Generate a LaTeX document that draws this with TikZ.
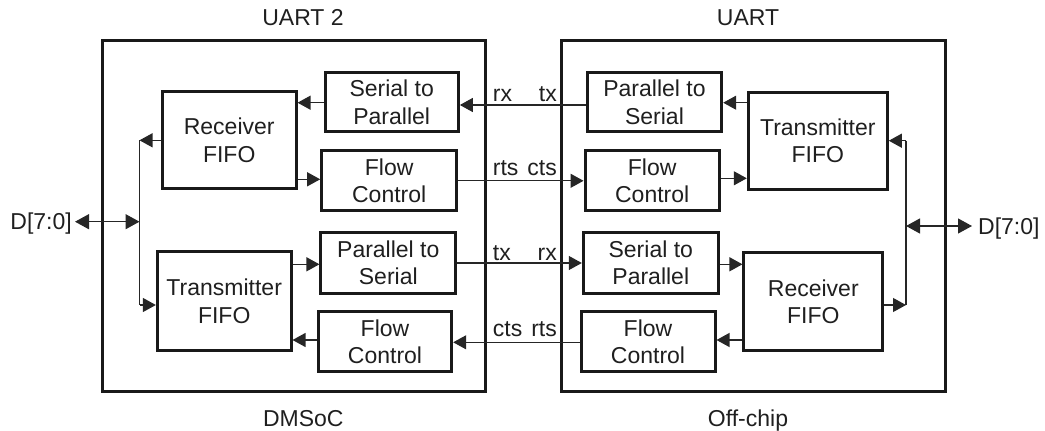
\documentclass[tikz,border=0pt]{standalone}
\usepackage{fontspec}
\setmainfont{Liberation Sans}
\usetikzlibrary{arrows.meta}
\begin{document}
\begin{tikzpicture}[x=1pt,y=-1pt,
  every node/.style={font=\fontsize{23}{27.5}\selectfont, text=black!88},
  blk/.style={draw=black!90, line width=3pt, inner sep=0pt, align=center},
  outer/.style={draw=black!90, line width=3pt, inner sep=0pt},
  lbl/.style={inner sep=0pt},
  arr/.style={draw=black!85, line width=1.2pt, -{Triangle[length=13pt,width=14pt]}},
  dbl/.style={draw=black!85, line width=1.2pt, {Triangle[length=14pt,width=15pt]}-{Triangle[length=14pt,width=15pt]}},
  bus/.style={draw=black!85, line width=1.2pt}]
\useasboundingbox (0,0) rectangle (1045,431);

% outer boxes
\node[outer, minimum width=382.3pt, minimum height=351pt] (lbox) at (293.85,216.2) {};
\node[outer, minimum width=383.3pt, minimum height=351pt] (rbox) at (753.35,216.2) {};

% titles
\node[anchor=base] (t1) at (303,25) {UART 2};
\node[anchor=base] (t2) at (748,25) {UART};
\node[anchor=base] (b1) at (303.3,426.5) {DMSoC};
\node[anchor=base] (b2) at (748,426.5) {Off-chip};

% left blocks
\node[blk, minimum width=133.7pt, minimum height=97.3pt] (lrx) at (229.2,140.3) {Receiver\\FIFO};
\node[blk, minimum width=133.7pt, minimum height=99pt] (ltx) at (224.2,301.2) {Transmitter\\FIFO};
\node[blk, minimum width=133.3pt, minimum height=59pt] (ls2p) at (391.7,102.2) {Serial to\\Parallel};
\node[blk, minimum width=135pt, minimum height=60.3pt] (lfc1) at (389.2,180.8) {Flow\\Control};
\node[blk, minimum width=134.7pt, minimum height=60.6pt] (lp2s) at (388.3,263) {Parallel to\\Serial};
\node[blk, minimum width=133.4pt, minimum height=60pt] (lfc2) at (385,341.7) {Flow\\Control};

% right blocks
\node[blk, minimum width=134.4pt, minimum height=59pt] (rp2s) at (654.5,102.2) {Parallel to\\Serial};
\node[blk, minimum width=134.3pt, minimum height=60.3pt] (rfc1) at (652.2,180.8) {Flow\\Control};
\node[blk, minimum width=135pt, minimum height=60.6pt] (rs2p) at (650.8,263) {Serial to\\Parallel};
\node[blk, minimum width=134pt, minimum height=60pt] (rfc2) at (648,341.7) {Flow\\Control};
\node[blk, minimum width=139pt, minimum height=96.7pt] (rtx) at (817.8,140.7) {Transmitter\\FIFO};
\node[blk, minimum width=138.7pt, minimum height=98pt] (rrx) at (813.3,301.7) {Receiver\\FIFO};

% bus coordinates
\coordinate (lbt) at (139.5,140.3);
\coordinate (lbm) at (139.5,221.7);
\coordinate (lbb) at (139.5,305);
\coordinate (rbt) at (906,140.7);
\coordinate (rbm) at (906,226);
\coordinate (rbb) at (906,305);

% D labels
\node[anchor=base east, inner xsep=3pt, inner ysep=0pt] (dL) at (75,229.9) {D[7:0]};
\node[anchor=base west, inner xsep=6pt, inner ysep=0pt] (dR) at (972,234.2) {D[7:0]};

% left bus
\draw[bus] (lbt) -- (lbb);
\draw[dbl] (dL.east |- lbm) -- (lbm);
\draw[arr] (lrx.west) -- (lbt);
\draw[arr] (lbb) -- (lbb -| ltx.west);

% right bus
\draw[bus] (rbt) -- (rbb);
\draw[dbl] (rbm) -- (dR.west |- rbm);
\draw[arr] (rbt) -- (rtx.east);
\draw[arr] (rbb -| rrx.east) -- (rbb);

% left internal
\draw[arr] ([yshift=-0.5pt]ls2p.west) -- ([yshift=-0.5pt]ls2p.west -| lrx.east);
\draw[arr] ([yshift=1.5pt]lrx.east |- lfc1.west) -- ([yshift=1.5pt]lfc1.west);
\draw[arr] ([yshift=-1.3pt]ltx.east |- lp2s.west) -- ([yshift=-1.3pt]lp2s.west);
\draw[arr] ([yshift=1.7pt]lfc2.west) -- ([yshift=1.7pt]lfc2.west -| ltx.east);

% right internal
\draw[arr] ([yshift=-0.5pt]rtx.west |- rp2s.east) -- ([yshift=-0.5pt]rp2s.east);
\draw[arr] ([yshift=2.5pt]rfc1.east) -- ([yshift=2.5pt]rfc1.east -| rtx.west);
\draw[arr] ([yshift=-1.3pt]rs2p.east) -- ([yshift=-1.3pt]rs2p.east -| rrx.west);
\draw[arr] ([yshift=1.7pt]rrx.west |- rfc2.east) -- ([yshift=1.7pt]rfc2.east);

% cross connections
\draw[arr] ([yshift=-2.8pt]rp2s.west) -- ([yshift=-2.8pt]rp2s.west -| ls2p.east);
\draw[arr] (lfc1.east) -- (lfc1.east -| rfc1.west);
\draw[arr] (lp2s.east) -- (lp2s.east -| rs2p.west);
\draw[arr] ([yshift=-0.6pt]rfc2.west) -- ([yshift=-0.6pt]rfc2.west -| lfc2.east);

% signal labels
\node[lbl, anchor=base west] (s1a) at (492.7,101.7) {rx};
\node[lbl, anchor=base east] (s1b) at (557,101.7) {tx};
\node[lbl, anchor=base west] (s2a) at (492.7,175.7) {rts};
\node[lbl, anchor=base east] (s2b) at (557,175.7) {cts};
\node[lbl, anchor=base west] (s3a) at (492.7,260) {tx};
\node[lbl, anchor=base east] (s3b) at (557,260) {rx};
\node[lbl, anchor=base west] (s4a) at (492.7,336.7) {cts};
\node[lbl, anchor=base east] (s4b) at (557,336.7) {rts};
\end{tikzpicture}
\end{document}
